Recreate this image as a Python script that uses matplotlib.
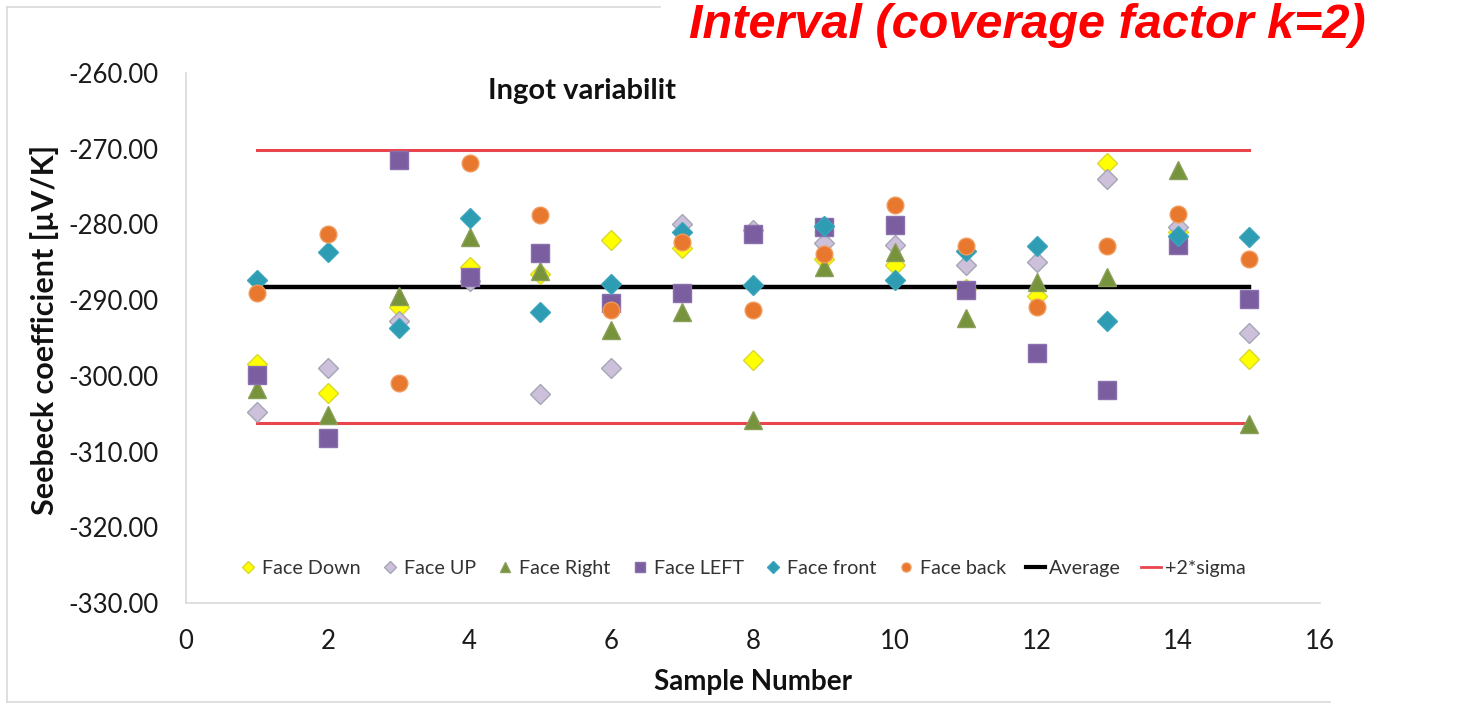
import matplotlib
matplotlib.use('Agg')
import matplotlib.pyplot as plt
from matplotlib.lines import Line2D

# ---- data ----
samples = list(range(1, 16))
face_down = [-298.4, -302.3, -290.9, -285.6, -286.5, -282.1, -283.1, -297.9,
             -284.5, -285.4, -288.5, -289.5, -271.9, -281.0, -297.8]
face_up = [-304.8, -299.0, -292.8, -287.5, -302.4, -299.0, -279.9, -280.8,
           -282.5, -282.7, -285.4, -284.9, -274.0, -280.3, -294.4]
face_right = [-301.7, -305.2, -289.5, -281.6, -286.2, -293.9, -291.6, -305.8,
              -285.6, -283.6, -292.4, -287.6, -286.9, -272.8, -306.3]
face_left = [-299.9, -308.2, -271.5, -286.9, -283.8, -290.4, -289.1, -281.2,
             -280.3, -280.1, -288.7, -297.0, -301.9, -282.7, -289.8]
face_front = [-287.4, -283.7, -293.7, -279.2, -291.5, -287.9, -281.0, -288.0,
              -280.2, -287.3, -283.5, -282.9, -292.7, -281.5, -281.7]
face_back = [-289.1, -281.3, -300.9, -271.9, -278.8, -291.3, -282.3, -291.3,
             -283.9, -277.4, -282.9, -290.9, -282.9, -278.6, -284.6]
average = [-288.2] * len(samples)
plus_2sigma = [-270.2] * len(samples)
minus_2sigma = [-306.2] * len(samples)

x_ticks = [0, 2, 4, 6, 8, 10, 12, 14, 16]
y_ticks = [-330, -320, -310, -300, -290, -280, -270, -260]

W, H = 1460, 705
fig = plt.figure(figsize=(W / 100, H / 100), dpi=100)
fig.patch.set_facecolor('white')

ax = fig.add_axes([186 / W, 1 - 603 / H, (1320 - 186) / W, (603 - 73) / H])

FONT = ['Lato', 'DejaVu Sans']

# lines
ax.plot(samples, average, color='black', lw=3.2, zorder=2, label='Average')
ax.plot(samples, plus_2sigma, color='#e8464c', lw=2.2, zorder=2, label='+2*sigma')
ax.plot(samples, minus_2sigma, color='#e8464c', lw=2.2, zorder=2)

series = [
    ('Face Down', face_down, 'D', '#ffff00', '#d8d830', 10.5),
    ('Face UP', face_up, 'D', '#ccc0da', '#a6a6b6', 10.5),
    ('Face Right', face_right, '^', '#77933c', '#8aa05a', 12.5),
    ('Face LEFT', face_left, 's', '#7a5ea0', '#8a70ad', 13),
    ('Face front', face_front, 'D', '#2e9cb3', '#3aa6bd', 10.5),
    ('Face back', face_back, 'o', '#e8782e', '#f09a5c', 12),
]
for i, (name, vals, mk, fc, ec, ms) in enumerate(series):
    ax.plot(samples, vals, linestyle='none', marker=mk, markersize=ms,
            markerfacecolor=fc, markeredgecolor=ec, markeredgewidth=1.0,
            zorder=3 + i)

ax.set_xlim(0, 16)
ax.set_ylim(-330, -260)
ax.set_xticks(x_ticks)
ax.set_yticks(y_ticks)
ax.set_yticklabels([f'{v:.2f}' for v in y_ticks])
ax.tick_params(length=0, labelsize=18.5, colors='#1a1a1a')
ax.tick_params(axis='y', pad=20)
ax.tick_params(axis='x', pad=19)
for lab in ax.get_xticklabels() + ax.get_yticklabels():
    lab.set_family(FONT)

for s in ['top', 'right']:
    ax.spines[s].set_visible(False)
for s in ['left', 'bottom']:
    ax.spines[s].set_color('#d9d9d9')
    ax.spines[s].set_linewidth(1.2)

ax.set_xlabel('Sample Number', fontsize=20, fontweight='bold', family=FONT,
              color='#111111')
ax.xaxis.set_label_coords(0.5, -0.125)
ax.set_ylabel('Seebeck coefficient [µV/K]', fontsize=22, fontweight='bold',
              family=FONT, color='#111111')
ax.yaxis.set_label_coords(-0.112, 0.515)

# legend
handles = []
for name, vals, mk, fc, ec, ms in series:
    handles.append(Line2D([], [], linestyle='none', marker=mk, markersize=6.5,
                          markerfacecolor=fc, markeredgecolor=ec, label=name))
handles.append(Line2D([], [], color='black', lw=3, label='Average'))
handles.append(Line2D([], [], color='#e8464c', lw=2, label='+2*sigma'))
leg = ax.legend(handles=handles, ncol=8, loc='center', bbox_to_anchor=(0.49, 0.066),
                frameon=False, handlelength=1.0, handletextpad=0.2,
                columnspacing=1.0, prop={'family': FONT, 'size': 14.2})
for t in leg.get_texts():
    t.set_color('#333333')

# title (partially covered in the reference)
fig.text(488 / W, 1 - 91 / H, 'Ingot variabilit', fontsize=21, fontweight='bold',
         family=FONT, va='center', ha='left', color='#111111')

# red overlay text
fig.text(689 / W, 1 - 38 / H, 'Interval (coverage factor k=2)', fontsize=35,
         fontweight='bold', style='italic', family=['Liberation Sans', 'DejaVu Sans'],
         color='#ff0000', va='baseline', ha='left')

# outer chart border
bc = '#d9d9d9'
fig.add_artist(Line2D([7 / W, 7 / W], [1 - 7 / H, 1 - 702 / H], color=bc, lw=1.2,
                      transform=fig.transFigure))
fig.add_artist(Line2D([7 / W, 660 / W], [1 - 7 / H, 1 - 7 / H], color=bc, lw=1.2,
                      transform=fig.transFigure))
fig.add_artist(Line2D([7 / W, 1330 / W], [1 - 702 / H, 1 - 702 / H], color=bc, lw=1.2,
                      transform=fig.transFigure))

fig.savefig('out.png', dpi=100, facecolor='white')
